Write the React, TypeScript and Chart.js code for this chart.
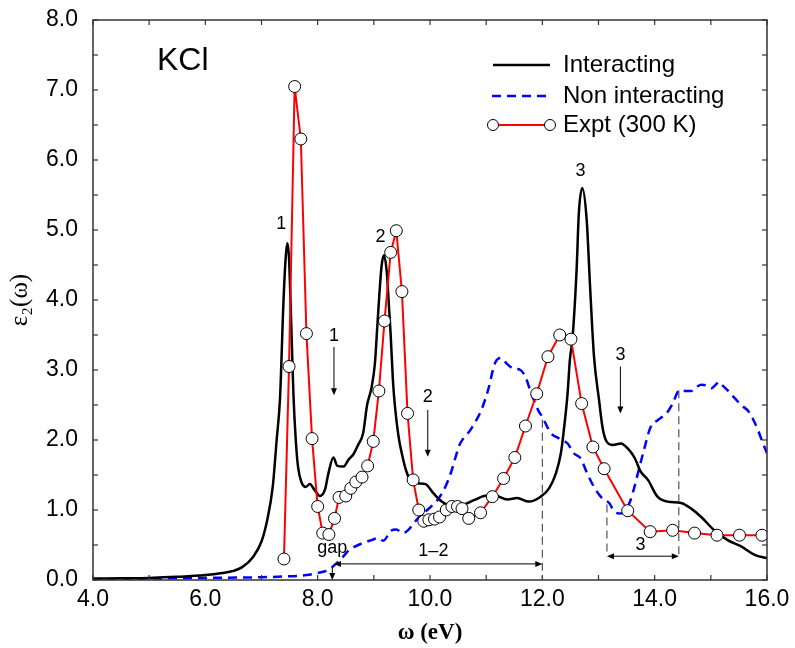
import React, { useEffect, useRef } from 'react';
import { Chart, registerables } from 'chart.js';

Chart.register(...registerables);

// ---------- data ----------
const interX = [4.0, 4.5, 5.0, 5.5, 6.0, 6.3, 6.5, 6.65, 6.85, 7.0, 7.1, 7.2, 7.27, 7.33, 7.39, 7.43, 7.46, 7.49, 7.52, 7.57, 7.61, 7.65, 7.71, 7.79, 7.86, 7.95, 8.04, 8.13, 8.19, 8.28, 8.35, 8.46, 8.55, 8.64, 8.72, 8.81, 8.88, 8.96, 9.02, 9.06, 9.10, 9.14, 9.18, 9.23, 9.27, 9.30, 9.34, 9.38, 9.44, 9.50, 9.58, 9.68, 9.80, 9.92, 10.06, 10.21, 10.36, 10.54, 10.78, 10.96, 11.14, 11.38, 11.55, 11.76, 11.97, 12.12, 12.24, 12.33, 12.39, 12.45, 12.49, 12.54, 12.61, 12.65, 12.71, 12.79, 12.85, 12.92, 13.01, 13.07, 13.13, 13.25, 13.40, 13.52, 13.64, 13.75, 13.88, 14.05, 14.23, 14.47, 14.65, 14.83, 15.06, 15.30, 15.54, 15.78, 16.0];
const interY = [0.02, 0.025, 0.03, 0.045, 0.07, 0.10, 0.13, 0.18, 0.33, 0.55, 0.85, 1.33, 2.0, 2.6, 3.95, 4.6, 4.81, 4.6, 3.9, 2.62, 2.0, 1.62, 1.40, 1.33, 1.37, 1.28, 1.20, 1.29, 1.52, 1.75, 1.63, 1.62, 1.72, 1.80, 1.93, 2.10, 2.50, 2.75, 3.1, 3.6, 4.1, 4.5, 4.64, 4.4, 3.9, 3.5, 2.85, 2.45, 2.05, 1.80, 1.55, 1.40, 1.38, 1.37, 1.24, 1.12, 1.07, 1.07, 1.14, 1.20, 1.21, 1.15, 1.17, 1.12, 1.19, 1.31, 1.52, 1.81, 2.19, 2.67, 3.14, 3.48, 4.43, 5.24, 5.60, 5.14, 4.19, 3.19, 2.57, 2.19, 2.00, 1.93, 1.95, 1.88, 1.75, 1.55, 1.43, 1.19, 1.12, 1.10, 1.02, 0.90, 0.71, 0.57, 0.48, 0.36, 0.31];

const nonX = [4.0, 5.0, 6.0, 7.0, 7.4, 7.8, 8.0, 8.15, 8.25, 8.34, 8.45, 8.55, 8.67, 8.81, 8.96, 9.08, 9.17, 9.30, 9.40, 9.52, 9.62, 9.71, 9.83, 9.92, 10.02, 10.13, 10.22, 10.30, 10.38, 10.45, 10.52, 10.60, 10.70, 10.78, 10.90, 10.97, 11.05, 11.12, 11.17, 11.26, 11.38, 11.49, 11.61, 11.70, 11.78, 11.85, 11.93, 12.0, 12.08, 12.15, 12.30, 12.45, 12.56, 12.68, 12.80, 12.92, 13.04, 13.12, 13.19, 13.28, 13.40, 13.50, 13.57, 13.64, 13.70, 13.81, 13.93, 14.05, 14.15, 14.23, 14.32, 14.44, 14.55, 14.65, 14.75, 14.83, 14.92, 15.01, 15.10, 15.15, 15.22, 15.30, 15.40, 15.48, 15.57, 15.66, 15.75, 15.84, 15.92, 16.0];
const nonY = [0.01, 0.02, 0.03, 0.04, 0.05, 0.07, 0.10, 0.13, 0.18, 0.24, 0.33, 0.42, 0.48, 0.53, 0.57, 0.60, 0.56, 0.70, 0.72, 0.67, 0.72, 0.81, 0.92, 0.98, 1.05, 1.14, 1.25, 1.38, 1.55, 1.74, 1.92, 2.03, 2.12, 2.22, 2.40, 2.55, 2.76, 3.0, 3.12, 3.17, 3.08, 3.02, 3.0, 2.9, 2.72, 2.57, 2.42, 2.33, 2.20, 2.10, 2.02, 1.95, 1.81, 1.74, 1.52, 1.33, 1.19, 1.14, 1.10, 0.98, 0.95, 1.02, 1.14, 1.33, 1.52, 1.86, 2.19, 2.28, 2.34, 2.40, 2.52, 2.71, 2.70, 2.70, 2.76, 2.79, 2.78, 2.74, 2.80, 2.83, 2.77, 2.71, 2.62, 2.55, 2.48, 2.42, 2.30, 2.14, 1.97, 1.81];

const exptX = [7.40, 7.49, 7.59, 7.70, 7.80, 7.90, 8.00, 8.09, 8.20, 8.30, 8.38, 8.50, 8.59, 8.68, 8.79, 8.89, 8.99, 9.09, 9.19, 9.30, 9.40, 9.50, 9.60, 9.70, 9.80, 9.89, 9.98, 10.08, 10.17, 10.29, 10.39, 10.49, 10.57, 10.69, 10.90, 11.11, 11.31, 11.51, 11.70, 11.90, 12.10, 12.31, 12.51, 12.70, 12.90, 13.10, 13.52, 13.92, 14.32, 14.71, 15.11, 15.51, 15.91];
const exptY = [0.30, 3.05, 7.05, 6.30, 3.52, 2.02, 1.05, 0.67, 0.65, 0.88, 1.18, 1.20, 1.31, 1.40, 1.47, 1.63, 1.98, 2.70, 3.70, 4.68, 4.99, 4.12, 2.38, 1.43, 1.00, 0.84, 0.86, 0.87, 0.90, 1.00, 1.05, 1.05, 1.02, 0.88, 0.96, 1.19, 1.45, 1.75, 2.20, 2.66, 3.19, 3.50, 3.44, 2.52, 1.90, 1.59, 0.99, 0.69, 0.71, 0.67, 0.64, 0.64, 0.64];

const xTickValues = [4, 5, 6, 7, 8, 9, 10, 11, 12, 13, 14, 15, 16];
const yTickValues = [0, 0.5, 1, 1.5, 2, 2.5, 3, 3.5, 4, 4.5, 5, 5.5, 6, 6.5, 7, 7.5, 8];

const seriesNames = ['Interacting', 'Non interacting', 'Expt (300 K)'];

// annotations in data coordinates
const peakLabels = [
  { text: '1', x: 7.35, y: 5.09 },
  { text: '2', x: 9.12, y: 4.9 },
  { text: '3', x: 12.68, y: 5.84 },
];
const downArrows = [
  { text: '1', x: 8.29, labelY: 3.49, from: 3.33, to: 2.64 },
  { text: '2', x: 9.96, labelY: 2.61, from: 2.43, to: 1.76 },
  { text: '3', x: 13.39, labelY: 3.21, from: 3.05, to: 2.38 },
];
const dashedLines = [
  { x: 12.0, from: 2.29, to: 0 },
  { x: 13.15, from: 1.08, to: 0.34 },
  { x: 14.43, from: 2.71, to: 0.31 },
];
const spanArrows = [
  { text: '1\u20132', x1: 8.29, x2: 12.0, y: 0.23, labelX: 10.06, labelY: 0.42 },
  { text: '3', x1: 13.15, x2: 14.43, y: 0.34, labelX: 13.75, labelY: 0.5 },
];
const gapMark = { text: 'gap', x: 8.26, labelY: 0.45, from: 0.19, to: 0 };

const SANS = '"Liberation Sans", Arial, Helvetica, sans-serif';
const SERIF = '"Liberation Serif", "Times New Roman", "DejaVu Serif", serif';

function line(ctx: CanvasRenderingContext2D, x1: number, y1: number, x2: number, y2: number) {
  ctx.beginPath();
  ctx.moveTo(x1, y1);
  ctx.lineTo(x2, y2);
  ctx.stroke();
}

function head(ctx: CanvasRenderingContext2D, x: number, y: number, dx: number, dy: number) {
  const len = 7, w = 3;
  const bx = x - dx * len, by = y - dy * len;
  ctx.beginPath();
  ctx.moveTo(x, y);
  ctx.lineTo(bx - dy * w, by + dx * w);
  ctx.lineTo(bx + dy * w, by - dx * w);
  ctx.closePath();
  ctx.fill();
}

const overlay = {
  id: 'overlay',
  afterDraw(chart: any) {
    const { ctx, chartArea, scales } = chart;
    const { left, right, top, bottom } = chartArea;
    const xs = scales.x, ys = scales.y;
    const X = (v: number) => xs.getPixelForValue(v);
    const Y = (v: number) => ys.getPixelForValue(v);
    ctx.save();

    // frame
    ctx.strokeStyle = '#333';
    ctx.lineWidth = 1.5;
    ctx.strokeRect(left, top, right - left, bottom - top);

    // inward ticks on all four sides
    ctx.lineWidth = 1.2;
    xTickValues.forEach((v) => {
      const px = X(v);
      line(ctx, px, bottom, px, bottom - 5);
      line(ctx, px, top, px, top + 5);
    });
    yTickValues.forEach((v) => {
      const py = Y(v);
      line(ctx, left, py, left + 5, py);
      line(ctx, right, py, right - 5, py);
    });

    // dashed vertical lines
    ctx.strokeStyle = '#444';
    ctx.lineWidth = 1.1;
    ctx.setLineDash([8, 5]);
    dashedLines.forEach((d) => line(ctx, X(d.x), Y(d.from), X(d.x), Y(d.to)));
    ctx.setLineDash([]);

    // arrows
    ctx.strokeStyle = '#000';
    ctx.fillStyle = '#000';
    ctx.lineWidth = 1;
    ctx.font = `18px ${SANS}`;
    ctx.textAlign = 'center';
    ctx.textBaseline = 'middle';
    downArrows.forEach((a) => {
      const px = X(a.x);
      line(ctx, px, Y(a.from), px, Y(a.to) - 3);
      head(ctx, px, Y(a.to), 0, 1);
      ctx.fillText(a.text, px, Y(a.labelY));
    });
    spanArrows.forEach((s) => {
      const p1 = X(s.x1), p2 = X(s.x2), py = Y(s.y);
      line(ctx, p1 + 3, py, p2 - 3, py);
      head(ctx, p1, py, -1, 0);
      head(ctx, p2, py, 1, 0);
      ctx.fillText(s.text, X(s.labelX), Y(s.labelY));
    });
    {
      const px = X(gapMark.x);
      line(ctx, px, Y(gapMark.from), px, Y(gapMark.to) - 3);
      head(ctx, px, Y(gapMark.to), 0, 1);
      ctx.fillText(gapMark.text, px, Y(gapMark.labelY));
    }

    // peak labels
    peakLabels.forEach((p) => ctx.fillText(p.text, X(p.x), Y(p.y)));

    // KCl
    ctx.font = `32px ${SANS}`;
    ctx.textAlign = 'left';
    ctx.fillText('KCl', 157, 61);

    // legend
    const lx1 = 493, lx2 = 550, tx = 563;
    const rows = [65, 96, 125];
    ctx.font = `24px ${SANS}`;
    ctx.textAlign = 'left';
    ctx.textBaseline = 'middle';
    ctx.strokeStyle = '#000';
    ctx.lineWidth = 2.5;
    line(ctx, lx1, rows[0], lx2, rows[0]);
    ctx.fillText(seriesNames[0], tx, rows[0]);
    ctx.strokeStyle = '#0000ff';
    ctx.setLineDash([9, 6]);
    line(ctx, lx1 - 1, rows[1], lx2, rows[1]);
    ctx.setLineDash([]);
    ctx.fillText(seriesNames[1], tx, rows[1]);
    ctx.strokeStyle = '#ff0000';
    ctx.lineWidth = 2;
    line(ctx, lx1, rows[2], lx2, rows[2]);
    [lx1, lx2].forEach((cx) => {
      ctx.beginPath();
      ctx.arc(cx, rows[2], 5.5, 0, Math.PI * 2);
      ctx.fillStyle = '#fff';
      ctx.fill();
      ctx.strokeStyle = '#000';
      ctx.lineWidth = 1;
      ctx.stroke();
    });
    ctx.fillStyle = '#000';
    ctx.fillText(seriesNames[2], tx, rows[2]);

    ctx.restore();
  },
};

export default function App() {
  const canvasRef = useRef<HTMLCanvasElement | null>(null);

  useEffect(() => {
    const canvas = canvasRef.current;
    if (!canvas) return;
    const toPts = (xs: number[], ys: number[]) => xs.map((x, i) => ({ x, y: ys[i] }));
    const chart = new Chart(canvas, {
      type: 'line',
      data: {
        datasets: [
          {
            label: seriesNames[2],
            data: toPts(exptX, exptY),
            borderColor: '#ff0000',
            borderWidth: 2,
            pointRadius: 6,
            pointBackgroundColor: '#ffffff',
            pointBorderColor: '#000000',
            pointBorderWidth: 1,
            tension: 0,
            order: 0,
          },
          {
            label: seriesNames[0],
            data: toPts(interX, interY),
            borderColor: '#000000',
            borderWidth: 2.5,
            pointRadius: 0,
            cubicInterpolationMode: 'monotone',
            order: 1,
          },
          {
            label: seriesNames[1],
            data: toPts(nonX, nonY),
            borderColor: '#0000ff',
            borderWidth: 2.5,
            borderDash: [9, 6],
            pointRadius: 0,
            cubicInterpolationMode: 'monotone',
            order: 2,
          },
        ] as any,
      },
      options: {
        responsive: false,
        animation: false,
        events: [],
        layout: { padding: { left: 0, top: 20, right: 28, bottom: 0 } },
        plugins: { legend: { display: false }, tooltip: { enabled: false } },
        scales: {
          x: {
            type: 'linear',
            min: 4,
            max: 16,
            afterFit: (s: any) => { s.height = 68; s.paddingLeft = 0; s.paddingRight = 0; },
            grid: { display: false, drawTicks: false },
            border: { display: false },
            ticks: {
              stepSize: 2,
              autoSkip: false,
              maxRotation: 0,
              padding: 6,
              color: '#000',
              font: { size: 23, family: SANS },
              callback: (v: any) => Number(v).toFixed(1),
            },
            title: {
              display: true,
              text: 'ω (eV)',
              color: '#000',
              font: { size: 23, family: SERIF, weight: 'bold' },
              padding: { top: 0, bottom: 1 },
            },
          },
          y: {
            type: 'linear',
            min: 0,
            max: 8,
            afterFit: (s: any) => { s.width = 93; s.paddingTop = 0; s.paddingBottom = 0; },
            grid: { display: false, drawTicks: false },
            border: { display: false },
            ticks: {
              stepSize: 1,
              padding: 15,
              color: '#000',
              font: { size: 23, family: SANS },
              callback: (v: any) => Number(v).toFixed(1),
            },
            title: {
              display: true,
              text: 'ε₂(ω)',
              color: '#000',
              font: { size: 25, family: SERIF },
              padding: { top: 5, bottom: 0 },
            },
          },
        },
      } as any,
      plugins: [overlay],
    });
    return () => chart.destroy();
  }, []);

  return (
    <div style={{ position: 'fixed', left: 0, top: 0, width: 795, height: 648, background: '#fff' }}>
      <canvas ref={canvasRef} width={795} height={648} style={{ display: 'block', width: 795, height: 648 }} />
    </div>
  );
}
